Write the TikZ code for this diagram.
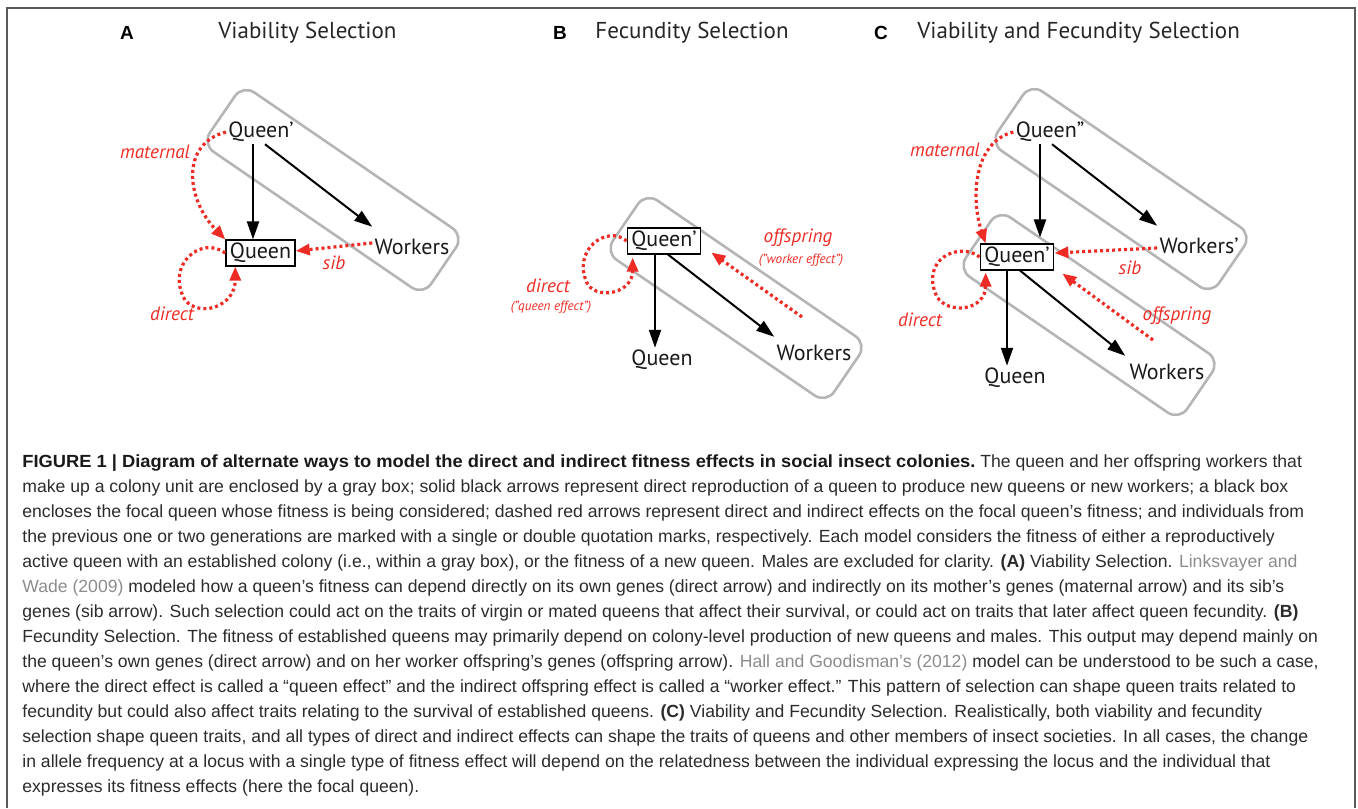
\documentclass[tikz,border=0pt]{standalone}
\usepackage{graphicx}
\usepackage{fontspec}
\setmainfont{Liberation Sans}
\newfontfamily\myr{PT Sans}
\usetikzlibrary{arrows.meta}
\definecolor{redd}{HTML}{EE2B24}
\definecolor{boxgray}{HTML}{B5B5B5}
\definecolor{captxt}{HTML}{2B2B2B}
\definecolor{citegray}{HTML}{8C8C8C}
\definecolor{framegray}{HTML}{5A5A5A}
\begin{document}
\begin{tikzpicture}[x=0.5pt,y=-0.5pt,
 colony/.style={draw=boxgray, line width=1.3pt, rounded corners=7pt, minimum width=134pt, minimum height=36pt, rotate=-34.4, inner sep=0pt},
 lbl/.style={font=\myr\fontsize{11}{13}\selectfont, text=black!90, inner sep=1pt},
 focal/.style={lbl, draw=black, line width=0.7pt, fill=white, inner xsep=2pt, inner ysep=1.5pt},
 eff/.style={font=\myr\itshape\fontsize{9.6}{11}\selectfont, text=redd, inner sep=0pt},
 effsmall/.style={font=\myr\itshape\fontsize{6.6}{8}\selectfont, text=redd, inner sep=0pt},
 blk/.style={line width=1pt, -{Triangle[length=9pt,width=6pt]}},
 rdot/.style={redd, line width=1.6pt, dash pattern=on 1.5pt off 1.5pt, -{Triangle[length=7pt,width=5.5pt]}},
 headtext/.style={font=\myr\fontsize{11.5}{13}\selectfont, text=black!85, anchor=west, inner sep=0pt},
 lettertext/.style={font=\bfseries\fontsize{9.5}{11}\selectfont, inner sep=0pt},
 captext/.style={font=\fontsize{8.8}{10}\selectfont, text=captxt, anchor=base west, inner sep=0pt}
]
\useasboundingbox (0,0) rectangle (1358,808);
\draw[framegray, line width=1pt] (7,808) -- (7,8) -- (1355,8) -- (1355,808);

% headings
\node[lettertext] (hA) at (127,33) {A};
\node[headtext] (tA) at (218,33) {Viability Selection};
\node[lettertext] (hB) at (560,33) {B};
\node[headtext] (tB) at (595,33) {Fecundity Selection};
\node[lettertext] (hC) at (881,33) {C};
\node[headtext] (tC) at (917,33) {Viability and Fecundity Selection};

% colony boxes
\node[colony] (colA) at (333,190) {};
\node[colony] (colB) at (736,298) {};
\node[colony] (colC1) at (1121,189) {};
\node[colony] (colC2) at (1089,315) {};

% ---------- Panel A
\node[lbl] (qpA) at (261,132) {Queen’};
\node[focal] (qA) at (260.5,253) {Queen};
\node[lbl] (wA) at (412,247) {Workers};
\draw[blk] ([xshift=-4pt]qpA.south) -- ([xshift=-3.75pt]qA.north);
\draw[blk] ([xshift=2pt]qpA.south) -- ([shift={(0pt,5pt)}]wA.north west);
\draw[rdot] (qpA.west) .. controls +(-46,12) and +(-39,-40) .. (qA.north west);
\draw[rdot] ([yshift=2pt]wA.west) -- ([yshift=1pt]qA.east);
\draw[rdot] (qA.west) .. controls +(-24,-18) and +(-20,-35) .. (185,300)
  .. controls +(15,18) and +(0,40) .. ([xshift=5pt]qA.south west);
\node[eff] (lmatA) at (155,152) {maternal};
\node[eff] (lsibA) at (334,263) {sib};
\node[eff] (ldirA) at (172,314) {direct};

% ---------- Panel B
\node[focal] (qpB) at (664,241) {Queen’};
\node[lbl] (qB) at (662,360) {Queen};
\node[lbl] (wB) at (814,353) {Workers};
\draw[blk] ([xshift=-4.5pt]qpB.south) -- ([xshift=-3.5pt]qB.north);
\draw[blk] ([xshift=2pt]qpB.south) -- ([shift={(0pt,3pt)}]wB.north west);
\coordinate (oB) at (802,317);
\draw[rdot] (oB) -- ([shift={(5pt,1pt)}]qpB.south east);
\draw[rdot] (qpB.west) .. controls +(-19,-17) and +(-18,-35) .. (588,285)
  .. controls +(12,15) and +(0,35) .. ([shift={(3pt,-1.5pt)}]qpB.south west);
\node[eff] (loffB) at (798,238) {offspring};
\node[effsmall] (loffB2) at (801,260) {(”worker effect”)};
\node[eff] (ldirB) at (548,286) {direct};
\node[effsmall] (ldirB2) at (551,307) {(”queen effect”)};

% ---------- Panel C
\node[lbl] (qppC) at (1050,132) {Queen”};
\node[lbl] (wpC) at (1199,246) {Workers’};
\node[focal] (qpC) at (1017,257) {Queen’};
\node[lbl] (qC) at (1015,378) {Queen};
\node[lbl] (wC) at (1167,372) {Workers};
\draw[blk] ([xshift=-5pt]qppC.south) -- ([shift={(11.5pt,3pt)}]qpC.north);
\draw[blk] ([xshift=1pt]qppC.south) -- ([shift={(0pt,5pt)}]wpC.north west);
\draw[blk] ([xshift=-5pt]qpC.south) -- ([xshift=-4pt]qC.north);
\draw[blk] ([xshift=1.5pt]qpC.south) -- ([shift={(-1pt,3pt)}]wC.north west);
\draw[rdot] (qppC.west) .. controls +(-40,10) and +(-15,-45) .. ([xshift=3pt]qpC.north west);
\draw[rdot] ([yshift=-1pt]wpC.west) -- ([yshift=2pt]qpC.east);
\coordinate (oC) at (1153,340);
\draw[rdot] (oC) -- ([shift={(4pt,-1.5pt)}]qpC.south east);
\draw[rdot] (qpC.west) .. controls +(-20,-16) and +(-18,-38) .. (937,297)
  .. controls +(12,18) and +(0,38) .. ([shift={(3pt,-1pt)}]qpC.south west);
\node[eff] (lmatC) at (945,150) {maternal};
\node[eff] (lsibC) at (1130,268) {sib};
\node[eff] (loffC) at (1177,316) {offspring};
\node[eff] (ldirC) at (920,320) {direct};

% ---------- caption
\node[captext] (c1) at (22,467) {\scalebox{1.04}[1]{\textbf{\color{black!90}FIGURE 1 | Diagram of alternate ways to model the direct and indirect fitness effects in social insect colonies.}} The queen and her offspring workers that};
\node[captext] (c2) at (22,492) {make up a colony unit are enclosed by a gray box; solid black arrows represent direct reproduction of a queen to produce new queens or new workers; a black box};
\node[captext] (c3) at (22,517) {encloses the focal queen whose fitness is being considered; dashed red arrows represent direct and indirect effects on the focal queen’s fitness; and individuals from};
\node[captext] (c4) at (22,542) {the previous one or two generations are marked with a single or double quotation marks, respectively. Each model considers the fitness of either a reproductively};
\node[captext] (c5) at (22,567) {active queen with an established colony (i.e., within a gray box), or the fitness of a new queen. Males are excluded for clarity. \textbf{(A)} Viability Selection. {\color{citegray}Linksvayer and}};
\node[captext] (c6) at (22,592) {{\color{citegray}Wade (2009)} modeled how a queen’s fitness can depend directly on its own genes (direct arrow) and indirectly on its mother’s genes (maternal arrow) and its sib’s};
\node[captext] (c7) at (22,617) {genes (sib arrow). Such selection could act on the traits of virgin or mated queens that affect their survival, or could act on traits that later affect queen fecundity. \textbf{(B)}};
\node[captext] (c8) at (22,642) {Fecundity Selection. The fitness of established queens may primarily depend on colony-level production of new queens and males. This output may depend mainly on};
\node[captext] (c9) at (22,667) {the queen’s own genes (direct arrow) and on her worker offspring’s genes (offspring arrow). {\color{citegray}Hall and Goodisman’s (2012)} model can be understood to be such a case,};
\node[captext] (c10) at (22,692) {where the direct effect is called a “queen effect” and the indirect offspring effect is called a “worker effect.” This pattern of selection can shape queen traits related to};
\node[captext] (c11) at (22,717) {fecundity but could also affect traits relating to the survival of established queens. \textbf{(C)} Viability and Fecundity Selection. Realistically, both viability and fecundity};
\node[captext] (c12) at (22,742) {selection shape queen traits, and all types of direct and indirect effects can shape the traits of queens and other members of insect societies. In all cases, the change};
\node[captext] (c13) at (22,767) {in allele frequency at a locus with a single type of fitness effect will depend on the relatedness between the individual expressing the locus and the individual that};
\node[captext] (c14) at (22,792) {expresses its fitness effects (here the focal queen).};
\end{tikzpicture}
\end{document}
